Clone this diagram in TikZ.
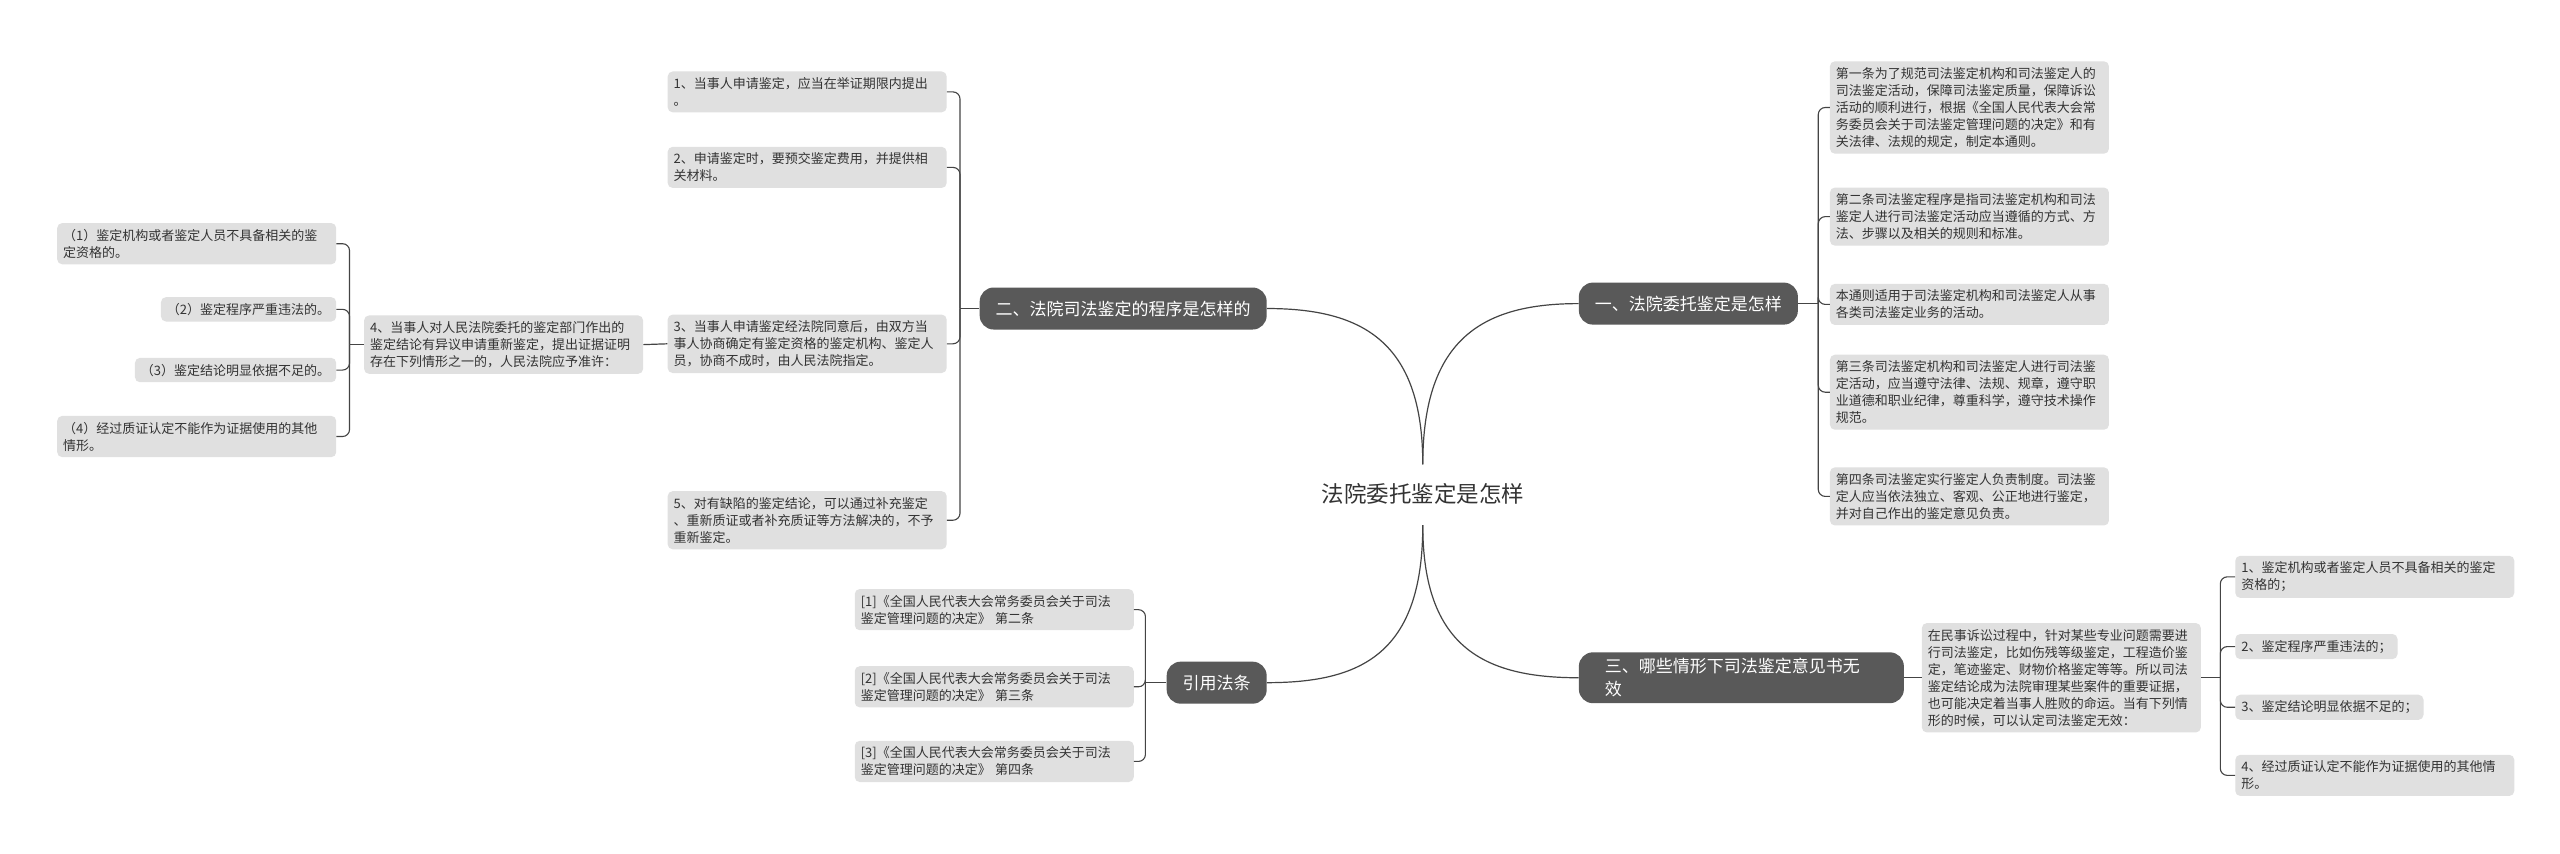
\documentclass[tikz,border=0pt]{standalone}
\usepackage{fontspec}
\newfontfamily\cjk{Noto Sans CJK SC}
\definecolor{leafgray}{HTML}{E0E0E0}
\definecolor{pillgray}{HTML}{595959}
\definecolor{txt}{HTML}{333333}
\definecolor{ln}{HTML}{444444}
\tikzset{
  leaf/.style={fill=leafgray, rounded corners=5pt, inner xsep=6pt, inner ysep=6pt, align=left, text=txt, font=\cjk\fontsize{13}{17}\selectfont},
  wleaf/.style={leaf, text width=267pt},
  pill/.style={fill=pillgray, rounded corners=14pt, inner xsep=16pt, inner ysep=6pt, minimum height=42pt, text=white, align=left, font=\cjk\fontsize{17}{23}\selectfont},
  conn/.style={draw=ln, line width=1.2pt},
  brk/.style={draw=ln, line width=1.1pt, rounded corners=7pt}
}
\begin{document}
\begin{tikzpicture}[x=1.641pt,y=-1.641pt]
\useasboundingbox[fill=white] (0,0) rectangle (1560,520);
\node[text=txt, font=\cjk\fontsize{22.5}{26}\selectfont] (root) at (867,301) {法院委托鉴定是怎样};
\coordinate (rt) at (867,283);
\coordinate (rb) at (867,320);
% pills
\node[pill, anchor=west] (p1) at (962,185) {一、法院委托鉴定是怎样};
\node[pill, anchor=east] (p2) at (772,188) {二、法院司法鉴定的程序是怎样的};
\node[pill, anchor=west, text width=273pt, inner xsep=26pt] (p3) at (962,413) {三、哪些情形下司法鉴定意见书无\\效};
\node[pill, anchor=east] (p4) at (772,416) {引用法条};
\draw[conn] (rt) .. controls (867,205) and (905,185) .. (p1.west);
\draw[conn] (rt) .. controls (867,208) and (830,188) .. (p2.east);
\draw[conn] (rb) .. controls (867,395) and (905,413) .. (p3.west);
\draw[conn] (rb) .. controls (867,398) and (830,416) .. (p4.east);
% branch 1
\node[wleaf, anchor=west] (b1) at (1115,65.5) {第一条为了规范司法鉴定机构和司法鉴定人的\\司法鉴定活动，保障司法鉴定质量，保障诉讼\\活动的顺利进行，根据《全国人民代表大会常\\务委员会关于司法鉴定管理问题的决定》和有\\关法律、法规的规定，制定本通则。};
\node[wleaf, anchor=west] (b2) at (1115,132) {第二条司法鉴定程序是指司法鉴定机构和司法\\鉴定人进行司法鉴定活动应当遵循的方式、方\\法、步骤以及相关的规则和标准。};
\node[wleaf, anchor=west] (b3) at (1115,185.5) {本通则适用于司法鉴定机构和司法鉴定人从事\\各类司法鉴定业务的活动。};
\node[wleaf, anchor=west] (b4) at (1115,239) {第三条司法鉴定机构和司法鉴定人进行司法鉴\\定活动，应当遵守法律、法规、规章，遵守职\\业道德和职业纪律，尊重科学，遵守技术操作\\规范。};
\node[wleaf, anchor=west] (b5) at (1115,302.5) {第四条司法鉴定实行鉴定人负责制度。司法鉴\\定人应当依法独立、客观、公正地进行鉴定，\\并对自己作出的鉴定意见负责。};
\coordinate (j1) at (1108,185);
\draw[conn] (p1.east) -- (j1);
\foreach \c in {b1,b2,b3,b4,b5} \draw[brk] (j1) |- (\c.west);
% branch 2
\node[wleaf, anchor=east] (c1) at (577,56) {1、当事人申请鉴定，应当在举证期限内提出\\。};
\node[wleaf, anchor=east] (c2) at (577,102) {2、申请鉴定时，要预交鉴定费用，并提供相\\关材料。};
\node[wleaf, anchor=east] (c3) at (577,209.5) {3、当事人申请鉴定经法院同意后，由双方当\\事人协商确定有鉴定资格的鉴定机构、鉴定人\\员，协商不成时，由人民法院指定。};
\node[wleaf, anchor=east] (c5) at (577,317) {5、对有缺陷的鉴定结论，可以通过补充鉴定\\、重新质证或者补充质证等方法解决的，不予\\重新鉴定。};
\coordinate (j2) at (585,188);
\draw[conn] (p2.west) -- (j2);
\foreach \c in {c1,c2,c3,c5} \draw[brk] (j2) |- (\c.east);
\node[wleaf, anchor=east] (c4) at (392,210) {4、当事人对人民法院委托的鉴定部门作出的\\鉴定结论有异议申请重新鉴定，提出证据证明\\存在下列情形之一的，人民法院应予准许：};
\draw[conn] (c3.west) -- (c4.east);
\node[wleaf, anchor=east] (d1) at (205,148.5) {（1）鉴定机构或者鉴定人员不具备相关的鉴\\定资格的。};
\node[leaf, anchor=east] (d2) at (205,188.5) {（2）鉴定程序严重违法的。};
\node[leaf, anchor=east] (d3) at (205,225.5) {（3）鉴定结论明显依据不足的。};
\node[wleaf, anchor=east] (d4) at (205,266) {（4）经过质证认定不能作为证据使用的其他\\情形。};
\coordinate (j4c) at (213,210);
\draw[conn] (c4.west) -- (j4c);
\foreach \c in {d1,d2,d3,d4} \draw[brk] (j4c) |- (\c.east);
% branch 4
\node[wleaf, anchor=east] (r1) at (691,371.5) {[1]《全国人民代表大会常务委员会关于司法\\鉴定管理问题的决定》 第二条};
\node[wleaf, anchor=east] (r2) at (691,418.5) {[2]《全国人民代表大会常务委员会关于司法\\鉴定管理问题的决定》 第三条};
\node[wleaf, anchor=east] (r3) at (691,464) {[3]《全国人民代表大会常务委员会关于司法\\鉴定管理问题的决定》 第四条};
\coordinate (j4) at (698,416);
\draw[conn] (p4.west) -- (j4);
\foreach \c in {r1,r2,r3} \draw[brk] (j4) |- (\c.east);
% branch 3
\node[wleaf, anchor=west] (f) at (1171,413) {在民事诉讼过程中，针对某些专业问题需要进\\行司法鉴定，比如伤残等级鉴定，工程造价鉴\\定，笔迹鉴定、财物价格鉴定等等。所以司法\\鉴定结论成为法院审理某些案件的重要证据，\\也可能决定着当事人胜败的命运。当有下列情\\形的时候，可以认定司法鉴定无效：};
\draw[conn] (p3.east) -- (f.west);
\node[wleaf, anchor=west] (e1) at (1362,351.5) {1、鉴定机构或者鉴定人员不具备相关的鉴定\\资格的；};
\node[leaf, anchor=west] (e2) at (1362,394) {2、鉴定程序严重违法的；};
\node[leaf, anchor=west] (e3) at (1362,431) {3、鉴定结论明显依据不足的；};
\node[wleaf, anchor=west] (e4) at (1362,472.5) {4、经过质证认定不能作为证据使用的其他情\\形。};
\coordinate (j3) at (1353,413);
\draw[conn] (f.east) -- (j3);
\foreach \c in {e1,e2,e3,e4} \draw[brk] (j3) |- (\c.west);
\end{tikzpicture}
\end{document}
